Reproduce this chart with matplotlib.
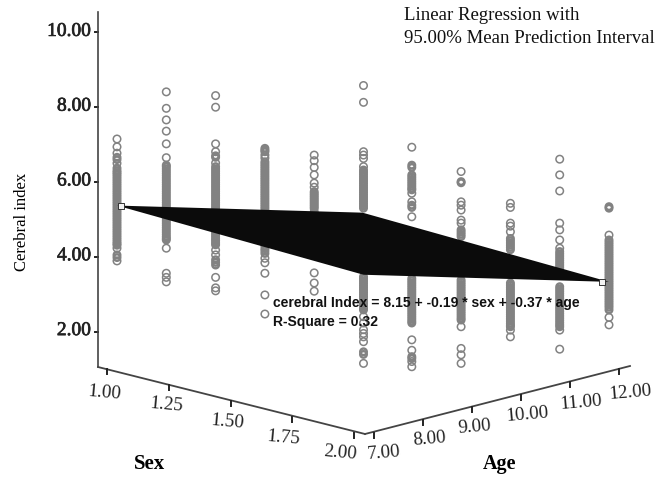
import matplotlib
matplotlib.use("Agg")
import matplotlib.pyplot as plt
import matplotlib.patheffects as pe
import numpy as np

plt.rcParams["font.family"] = "Liberation Serif"

# regression model
intercept, b_sex, b_age = 8.15, -0.19, -0.37

# observed cerebral index, one list per (sex, age) column
col_s1_a7 = [7.15,6.94,6.77,6.66,6.6,6.5,6.37,6.3,6.25,6.2,6.14,6.08,6.02,5.96,5.9,5.84,5.78,5.72,5.66,5.6,5.54,5.48,5.42,5.36,5.3,5.24,5.18,5.12,5.06,5.0,4.94,4.88,4.82,4.76,4.7,4.64,4.58,4.52,4.46,4.4,4.35,4.31,4.23,4.05,3.98,3.89]
col_s1_a8 = [8.41,7.97,7.66,7.36,7.02,6.65,6.45,6.41,6.35,6.29,6.23,6.17,6.11,6.05,5.99,5.93,5.87,5.81,5.75,5.69,5.63,5.57,5.51,5.45,5.39,5.33,5.27,5.2,5.14,5.08,5.02,4.96,4.9,4.84,4.78,4.72,4.66,4.6,4.54,4.49,4.45,4.23,3.56,3.45,3.33]
col_s1_a9 = [8.31,8.0,7.02,6.81,6.7,6.66,6.51,6.41,6.35,6.29,6.23,6.17,6.11,6.05,5.99,5.93,5.87,5.81,5.75,5.69,5.63,5.57,5.51,5.45,5.39,5.33,5.27,5.2,5.14,5.08,5.02,4.96,4.9,4.84,4.78,4.72,4.66,4.6,4.54,4.48,4.43,4.37,4.32,4.18,4.05,3.92,3.85,3.78,3.45,3.17,3.09]
col_s1_a10 = [6.9,6.85,6.81,6.72,6.64,6.54,6.48,6.42,6.36,6.3,6.24,6.18,6.12,6.06,6.0,5.94,5.88,5.82,5.76,5.7,5.64,5.58,5.52,5.46,5.4,5.34,5.28,5.2,5.1,5.0,4.9,4.8,4.7,4.6,4.5,4.4,4.3,4.22,4.16,4.09,3.96,3.84,3.56,2.98,2.47]
col_s1_a11 = [6.72,6.57,6.39,6.19,5.97,5.86,5.74,5.69,5.64,5.59,5.54,5.49,5.44,5.39,5.34,5.29,5.2,5.1,5.0,4.9,4.8,4.7,4.6,4.5,4.4,4.3,4.2,4.1,3.57,3.3,3.08]
col_s1_a12 = [8.58,8.13,6.81,6.72,6.63,6.41,6.32,6.26,6.2,6.14,6.08,6.02,5.96,5.9,5.84,5.78,5.72,5.66,5.6,5.54,5.48,5.42,5.36,5.3,3.47,3.41,3.35,3.29,3.23,3.17,3.11,3.05,2.99,2.93,2.87,2.81,2.75,2.69,2.63,2.58,2.4,2.23,2.05,1.95,1.86,1.73,1.46,1.39,1.15]
col_s2_a8 = [6.93,6.45,6.39,6.19,6.13,6.07,6.01,5.95,5.89,5.83,5.79,5.7,5.47,5.38,5.32,5.07,3.42,3.36,3.3,3.24,3.18,3.12,3.06,3.0,2.94,2.88,2.82,2.76,2.7,2.64,2.58,2.52,2.46,2.4,2.34,2.28,2.23,1.78,1.5,1.33,1.28,1.2,1.06]
col_s2_a9 = [6.28,6.01,5.98,5.47,5.38,5.25,4.98,4.9,4.72,4.66,4.6,4.54,3.38,3.32,3.26,3.2,3.14,3.08,3.02,2.96,2.9,2.84,2.78,2.72,2.66,2.6,2.54,2.48,2.42,2.36,2.31,2.13,1.55,1.38,1.15]
col_s2_a10 = [5.43,5.32,4.9,4.82,4.67,4.49,4.43,4.37,4.31,4.25,4.19,3.3,3.24,3.18,3.12,3.06,3.0,2.94,2.88,2.82,2.76,2.7,2.64,2.58,2.52,2.46,2.4,2.34,2.28,2.22,2.17,2.13,2.04,1.86]
col_s2_a11 = [6.61,6.19,5.76,4.9,4.72,4.45,4.23,4.14,4.08,4.02,3.96,3.9,3.84,3.78,3.72,3.66,3.2,3.14,3.08,3.02,2.96,2.9,2.84,2.78,2.72,2.66,2.6,2.54,2.48,2.42,2.36,2.3,2.24,2.18,2.13,2.04,1.53]
col_s2_a12 = [5.34,5.3,4.58,4.45,4.39,4.33,4.27,4.21,4.15,4.09,4.03,3.97,3.91,3.85,3.79,3.73,3.67,3.61,3.55,3.49,3.43,3.37,3.31,3.25,3.19,3.13,3.07,3.01,2.95,2.89,2.83,2.77,2.71,2.65,2.58,2.38,2.18]
columns = [(1.0,7,col_s1_a7),(1.0,8,col_s1_a8),(1.0,9,col_s1_a9),(1.0,10,col_s1_a10),(1.0,11,col_s1_a11),
           (1.0,12,col_s1_a12),(2.0,8,col_s2_a8),(2.0,9,col_s2_a9),(2.0,10,col_s2_a10),(2.0,11,col_s2_a11),(2.0,12,col_s2_a12)]

y_ticks = [2, 4, 6, 8, 10]
sex_ticks = [1.0, 1.25, 1.5, 1.75, 2.0]
age_ticks = [7, 8, 9, 10, 11, 12]

fig = plt.figure(figsize=(6.7, 4.78), dpi=100)
ax = fig.add_axes([0, 0, 1, 1])
ax.set_xlim(0, 670); ax.set_ylim(478, 0); ax.axis("off")

def px(sex, age):            # horizontal projection of the sex/age plane
    return 117 + 245.5 * (np.asarray(sex) - 1) + 49.3 * (np.asarray(age) - 7)
def py(v):                   # vertical scale of the index
    return 182 - 37.4 * (np.asarray(v) - 6)
def fit(sex, age):
    return intercept + b_sex * sex + b_age * age

GRAY = "#828282"
for sex, age, vals in columns:
    vals = np.array(vals)
    gaps = np.abs(np.diff(vals))
    # points packed into a run overlap to a solid bar, as in the source
    dense = np.r_[gaps[0], gaps] < 0.075
    dense |= np.r_[gaps, gaps[-1]] < 0.075
    x = np.full(len(vals), px(sex, age))
    ax.scatter(x[~dense], py(vals[~dense]), s=29, facecolors="none", edgecolors=GRAY, linewidths=1.1, zorder=2)
    ax.scatter(x[dense], py(vals[dense]), s=22, facecolors="none", edgecolors=GRAY, linewidths=1.75, zorder=2)

corners = [(1.0, 7), (2.0, 7), (2.0, 12), (1.0, 12)]
ax.fill([px(s, a) for s, a in corners], [py(fit(s, a)) for s, a in corners],
        color="#0b0b0b", lw=0, zorder=3)
# the interval pinches to a small open box at the two extreme corners
for s, a, a_box in [(1.0, 7, 7.09), (2.0, 12, 11.85)]:
    ax.scatter(px(s, a_box), py(fit(s, a)), marker="s", s=19, facecolors="#f2f2f2",
               edgecolors="#333333", linewidths=0.7, zorder=4)

INK = "#222222"
bold = [pe.withStroke(linewidth=0.5, foreground=INK)]

# vertical axis
ax.plot([98, 98], [12, 367], color="#444444", lw=1.2, zorder=4)
for v in y_ticks:
    ax.plot([95, 98], [py(v), py(v)], color=INK, lw=1.4)
    ax.text(91, py(v) - 1, f"{v:.2f}", ha="right", va="center", fontsize=14, color=INK, path_effects=bold)

# floor axes, projected along their own edges
def sx(s):
    return 107 + 247 * (s - 1), 370 + 64 * (s - 1)
def ag(a):
    return 374 + 49 * (a - 7), 434 - 12.8 * (a - 7)
sex_lab_off = [(-3, 23), (-2, 19), (-3, 20), (-9, 20), (-14, 19)]
age_lab_off = [(10, 19), (6, 18), (3, 19), (6, 19), (11, 20), (11, 23)]

ax.plot([98, 365], [367, 434], color="#444444", lw=1.3)
ax.plot([365, 630], [434, 366], color="#444444", lw=1.3)
for s, off in zip(sex_ticks, sex_lab_off):
    x, y = sx(s)
    ax.plot([x, x], [y - 1, y + 4], color=INK, lw=1.4)
    ax.text(x + off[0], y + off[1], f"{s:.2f}", ha="center", va="center", fontsize=13.7, rotation=-5, color=INK)
for a, off in zip(age_ticks, age_lab_off):
    x, y = ag(a)
    ax.plot([x, x], [y - 1, y + 4], color=INK, lw=1.4)
    ax.text(x + off[0], y + off[1], f"{a:.2f}", ha="center", va="center", fontsize=13.7, rotation=5, color=INK)

ax.text(150, 464, "Sex", ha="center", va="center", fontsize=15, fontweight="bold")
ax.text(500, 464, "Age", ha="center", va="center", fontsize=14.5, fontweight="bold")
ax.text(22, 222, "Cerebral index", rotation=90, ha="center", va="center", fontsize=12)
ax.text(404, 15, "Linear Regression with", ha="left", va="center", fontsize=13.5, color="#111111")
ax.text(404, 38, "95.00% Mean Prediction Interval", ha="left", va="center", fontsize=13.5, color="#111111")
ax.text(273, 303, "cerebral Index = 8.15 + -0.19 * sex + -0.37 * age", fontsize=10, fontweight="bold",
        family="Liberation Sans", va="center", zorder=5, color="#111111")
ax.text(273, 322, "R-Square = 0.32", fontsize=10, fontweight="bold", family="Liberation Sans", va="center",
        zorder=5, color="#111111")
fig.savefig("out.png", dpi=100, facecolor="white")
